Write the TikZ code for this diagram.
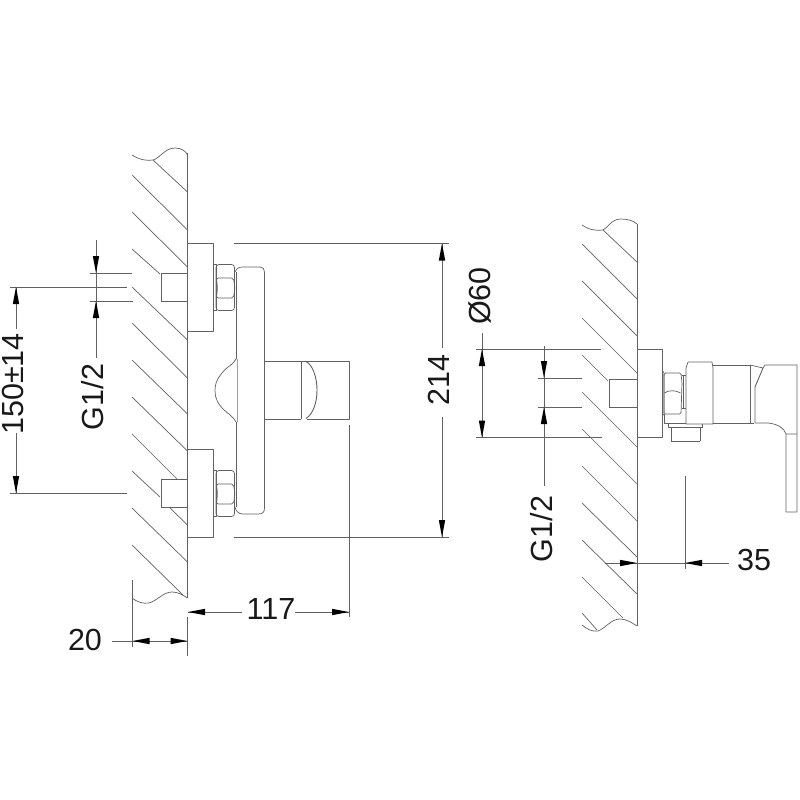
\documentclass[tikz,border=0pt]{standalone}
\usepackage{fontspec}
\setmainfont{Liberation Sans}
\definecolor{ink}{gray}{0.38}
\tikzset{
  part/.style={draw=ink,line width=0.7pt,line join=round,fill=none},
  thick part/.style={draw=ink,line width=1pt},
  hatch/.style={draw=ink,line width=0.7pt},
  dimline/.style={draw=ink,line width=0.7pt},
  dimtext/.style={font=\fontsize{30.5}{30.5}\selectfont,text=black!90,inner sep=0pt},
  tipshape/.style={fill=black,draw=none}
}
% arrowhead: tip (x,y), direction unit (dx,dy) from the tip to the base
\newcommand{\dimtip}[4]{\fill[tipshape] (#1,#2) -- ({#1+17*(#3)+3.2*(#4)},{#2+17*(#4)+3.2*(#3)}) -- ({#1+17*(#3)-3.2*(#4)},{#2+17*(#4)-3.2*(#3)}) -- cycle;}
\begin{document}
\begin{tikzpicture}[x=1pt,y=-1pt]
\useasboundingbox (0,0) rectangle (800,800);
\fill[white] (0,0) rectangle (800,800);

%% ---------- LEFT VIEW: wall
\draw[part] (187.5,153) -- (187.5,598);
\draw[part] (132,155) .. controls (140,160) and (147,161) .. (153,160) .. controls (160,158) and (165,148) .. (175,148) .. controls (181,148) and (186,151) .. (187.5,155);
\draw[part] (132,598) .. controls (137,602) and (143,604) .. (149,603) .. controls (157,601) and (163,592) .. (172,592) .. controls (178,592) and (183,595) .. (187.5,598);
\foreach \a/\b/\c/\d in {153/160/187.5/192, 132/175/187.5/230, 132/212/187.5/267, 132/249/160/274,
  132/287/187.5/340, 132/323/187.5/378, 132/360/187.5/414, 132/397/187.5/451, 132/434/177/479,
  132/471/160/497, 170/508/187.5/525, 132/508/187.5/562, 132/545/183/595}
  \draw[hatch] (\a,\b) -- (\c,\d);

%% plates and studs
\draw[part] (187.5,243.5) rectangle (213,331.5);
\draw[part] (187.5,449) rectangle (213,537);
\draw[thick part] (187.5,273) -- (161,273) -- (161,301) -- (187.5,301);
\draw[thick part] (187.5,479) -- (161,479) -- (161,507) -- (187.5,507);

%% nuts
\foreach \o in {0,206}{
  \begin{scope}[yshift=-\o pt]
  \draw[part] (213,264) -- (216,264) -- (216,310.5) -- (213,310.5);
  \draw[part,rounded corners=3pt] (216,264.5) rectangle (234.5,310.5);
  \draw[part,rounded corners=2pt] (216.5,278) -- (233.5,278) -- (235,288) -- (233.5,298) -- (216.5,298) -- (217.5,288) -- cycle;
  \end{scope}
}

%% body
\draw[part] (235,272) .. controls (237,268) and (239,267) .. (243,267) -- (260,267) .. controls (263,267) and (264.5,269) .. (264.5,272) -- (264.5,508) .. controls (264.5,512) and (263,514) .. (258,514) -- (243,514) .. controls (238,514) and (236,511) .. (235,507);
\draw[part] (236,272) -- (236,359);
\draw[part] (236,422) -- (236,507);
\draw[part] (236,359) .. controls (232,366) and (226,367) .. (222,373) .. controls (216,380) and (215,385) .. (215,391) .. controls (215,398) and (218,404) .. (223,409) .. controls (228,414) and (233,416) .. (236,422);
\draw[part,draw=ink!60] (237,359) -- (237,422);

%% handle
\draw[part] (264.5,361) -- (349,361) -- (349,419) -- (307,419);
\draw[part] (264.5,419) -- (301,419);
\draw[thick part,line width=0.9pt] (301,361) -- (301,419);
\draw[part,line width=0.9pt] (306,361.5) .. controls (313,365) and (317,378) .. (317,390) .. controls (317,403) and (313,414) .. (306,418.5);

%% ---------- LEFT VIEW: dimensions
\node[dimtext,rotate=90] (t150) at (13,384) {150±14};
\node[dimtext,rotate=90] (tg1) at (93,397) {G1/2};
\node[dimtext,rotate=90] (t214) at (439,380) {214};
\node[dimtext] (t117) at (271,609) {117};
\node[dimtext] (t20) at (85,640) {20};

\draw[dimline] (10,287) -- (127,287);
\draw[dimline] (10,493) -- (127,493);
\draw[dimline] (16,287) -- (16,329);
\draw[dimline] (16,433) -- (16,493);
\dimtip{16}{287}{0}{1}
\dimtip{16}{493}{0}{-1}

\draw[dimline] (90,273) -- (132,273);
\draw[dimline] (90,301) -- (133,301);
\draw[dimline] (96,240) -- (96,358);
\dimtip{96}{273}{0}{-1}
\dimtip{96}{301}{0}{1}

\draw[dimline] (234,243.5) -- (449,243.5);
\draw[dimline] (234,537) -- (449,537);
\draw[dimline] (442,243.5) -- (442,348);
\draw[dimline] (442,417) -- (442,537);
\dimtip{442}{243.5}{0}{1}
\dimtip{442}{537}{0}{-1}

\draw[dimline] (349,425) -- (349,617);
\draw[dimline] (187.5,617) -- (187.5,656);
\draw[dimline] (188,612) -- (242,612);
\draw[dimline] (295,612) -- (349,612);
\dimtip{188}{612}{1}{0}
\dimtip{349}{612}{-1}{0}

\draw[dimline] (132.5,580) -- (132.5,647);
\draw[dimline] (112,641) -- (187.5,641);
\dimtip{132.5}{641}{1}{0}
\dimtip{187.5}{641}{-1}{0}

%% ---------- RIGHT VIEW: wall
\draw[part,line width=1pt] (637,224) -- (637,626);
\draw[part] (582,225) .. controls (589,230) and (597,231) .. (603,230) .. controls (608,228) and (611,219) .. (621,219) .. controls (628,219) and (634,221) .. (637,224);
\draw[part] (582,625) .. controls (587,629) and (592,632) .. (598,631) .. controls (606,628) and (611,619) .. (620,619) .. controls (627,619) and (632,623) .. (637,626);
\foreach \a/\b/\c/\d in {603/230/637/262, 582/244/637/299, 582/281/637/336, 582/318/637/373, 582/355/608/381,
  582/392/637/447, 582/429/637/484, 582/466/637/521, 582/503/637/557, 582/540/637/594, 582/577/623/618, 582/613/597/630}
  \draw[hatch] (\a,\b) -- (\c,\d);

%% plate, stud
\draw[part] (637,349) rectangle (662,437);
\draw[thick part] (637,379) -- (609,379) -- (609,407) -- (637,407);

%% nut and fitting
\draw[part] (662,370) -- (664,373) -- (664,414) -- (662,416);
\draw[part,rounded corners=1.5pt] (664,373) -- (681,373) -- (682,383) -- (681,414) -- (664,414) -- cycle;
\draw[part] (664.5,393) .. controls (668,390) and (676,390) .. (680.5,393);
\draw[part] (664,414) -- (664,423) -- (686,423);
\draw[thick part,line width=0.9pt] (683,375) -- (683,408);
\draw[part] (682,375) -- (686,375);
\draw[part] (682,408) -- (686,408);

%% collar and body
\draw[part] (686,424) -- (686,368) -- (688,362) -- (712,362) -- (713,368) -- (713,424) -- (686,424);
\draw[part] (713,365) -- (750,365);
\draw[part] (713,423) -- (750,423);
\draw[thick part,line width=0.9pt] (750,365) -- (750,423);
\draw[part] (750,423) -- (754,423);
\draw[part] (750,365) -- (763,368);

%% lever
\draw[part,line width=0.9pt] (755,423) -- (755,387) -- (763,368);
\draw[part] (763,368) -- (765,365) -- (797,365) -- (797,512) -- (786,512) -- (786,434);
\draw[part] (755,423) -- (768,423) .. controls (778,424) and (784,428) .. (786,434) -- (797,434);

%% spout nut
\draw[part] (668,424) -- (668,427) -- (702,427) -- (702,424);
\draw[part] (671,427) -- (671,441);
\draw[part] (700,427) -- (700,441);
\draw[thick part] (671,441) -- (700,441);

%% ---------- RIGHT VIEW: dimensions
\node[dimtext,rotate=90] (t60) at (480,296) {Ø60};
\node[dimtext,rotate=90] (tg2) at (542,529) {G1/2};
\node[dimtext] (t35) at (754,560) {35};

\draw[dimline] (476,349) -- (601,349);
\draw[dimline] (476,437.5) -- (602,437.5);
\draw[dimline] (482,333) -- (482,437.5);
\dimtip{482}{349}{0}{1}
\dimtip{482}{437.5}{0}{-1}

\draw[dimline] (538,378) -- (582,378);
\draw[dimline] (538,407) -- (582,407);
\draw[dimline] (544,346) -- (544,486);
\dimtip{544}{378}{0}{-1}
\dimtip{544}{407}{0}{1}

\draw[dimline] (685,476) -- (685,569);
\draw[dimline] (605,563) -- (729,563);
\dimtip{637}{563}{-1}{0}
\dimtip{685}{563}{1}{0}
\end{tikzpicture}
\end{document}
